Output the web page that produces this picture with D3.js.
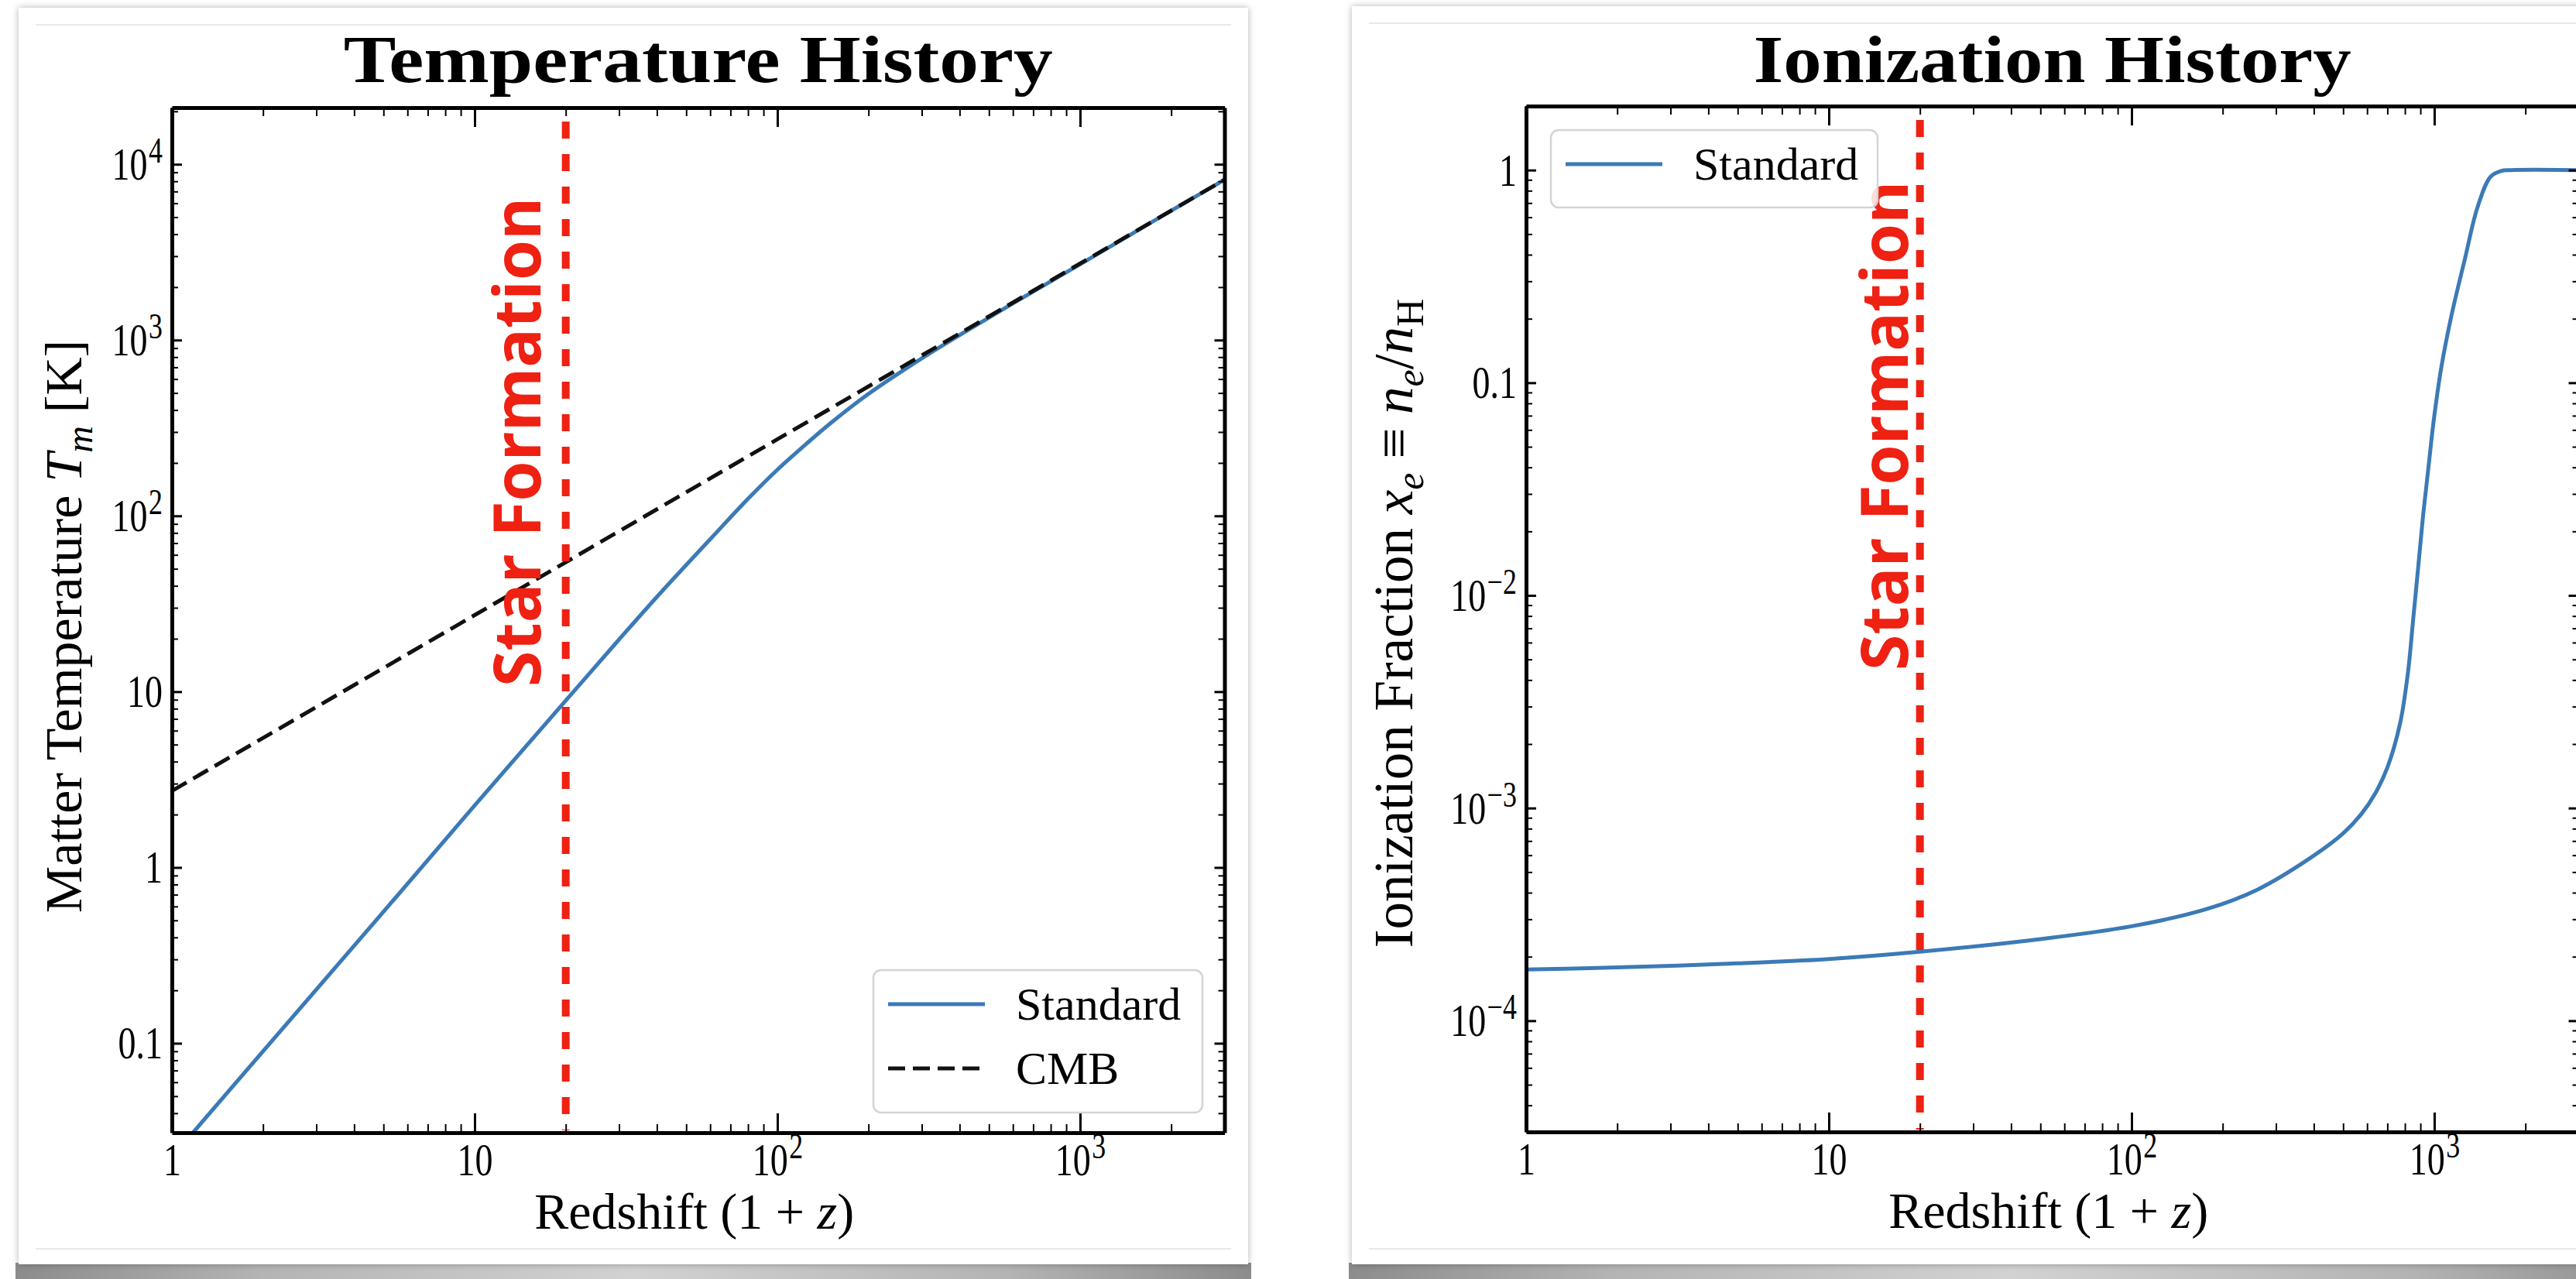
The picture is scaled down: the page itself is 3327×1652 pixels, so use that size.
<!DOCTYPE html>
<html>
<head>
<meta charset="utf-8">
<script src="https://cdn.jsdelivr.net/npm/d3@7"></script>
<style>
  html, body { margin: 0; padding: 0; background: #fff; }
  svg { display: block; }
</style>
</head>
<body>
<script>
// ---- data ----
const redshiftRange = [1, 3000];

// temperature history (matter, "Standard")
const tempZ = [1, 2, 5, 10, 20, 30, 40, 60, 80, 100, 125, 150, 200, 300, 400, 600, 1000, 2000, 3000];
const tempStandard = [0.0225, 0.09, 0.56, 2.25, 8.9, 19.8, 34.6, 73.6, 125, 183, 258, 337, 494, 787, 1068, 1615, 2700, 5440, 8175];

// CMB temperature
const cmbZ = [1, 10, 100, 1000, 3000];
const tempCMB = [2.725, 27.25, 272.5, 2725, 8175];

// ionization history ("Standard")
const ionZ = [1, 2, 5, 10, 20, 50, 100, 177, 261, 388, 500, 575, 640, 700, 771, 818, 851, 885, 920, 958, 996, 1056, 1143, 1260, 1390, 1534, 1660, 1800, 3000];
const ionStandard = [1.74e-4, 1.78e-4, 1.86e-4, 1.95e-4, 2.11e-4, 2.42e-4, 2.78e-4, 3.35e-4, 4.14e-4, 5.8e-4, 7.6e-4, 9.4e-4, 1.18e-3, 1.55e-3, 2.5e-3, 4.3e-3, 7.6e-3, 1.36e-2, 2.43e-2, 4.07e-2, 6.66e-2, 0.119, 0.211, 0.378, 0.67, 0.93, 0.99, 1.0, 1.0];

const starFormationZ = 20;

const tempDomain = [0.031, 21000];
const ionDomain = [3e-5, 2];

// ---- page ----
const W = 3327, H = 1652;
const blue = "#3b7ab6", red = "#ee2112";
const serif = "'Liberation Serif', 'Times New Roman', serif";

let svg = d3.select("body").append("svg")
    .attr("width", W)
    .attr("height", H);

svg.append("rect").attr("width", W).attr("height", H).attr("fill", "#fff");

let defs = svg.append("defs");
let shadow = defs.append("filter").attr("id", "cardShadow")
    .attr("x", "-5%").attr("y", "-5%").attr("width", "110%").attr("height", "110%");
shadow.append("feDropShadow")
    .attr("dx", 0).attr("dy", 0)
    .attr("stdDeviation", 4)
    .attr("flood-color", "#000")
    .attr("flood-opacity", 0.3);

let band = defs.append("linearGradient").attr("id", "band");
[[0, "#8c8c8c"], [0.2, "#b4b4b4"], [0.5, "#d2d2d2"], [0.8, "#b4b4b4"], [1, "#8c8c8c"]]
    .forEach(s => band.append("stop").attr("offset", s[0]).attr("stop-color", s[1]));

// cards
let cards = [
    {x: 24, y: 10, w: 1588, h: 1623},
    {x: 1746, y: 8, w: 1700, h: 1625}
];
cards.forEach(c => {
    svg.append("rect")
        .attr("x", c.x - 4).attr("y", c.y + c.h - 2)
        .attr("width", c.w + 8).attr("height", H - (c.y + c.h) + 2)
        .attr("fill", "url(#band)");
    svg.append("rect")
        .attr("x", c.x).attr("y", c.y)
        .attr("width", c.w).attr("height", c.h)
        .attr("fill", "#fff")
        .attr("filter", "url(#cardShadow)");
    [c.y + 22, c.y + c.h - 20].forEach(ly => {
        svg.append("line")
            .attr("x1", c.x + 22).attr("x2", c.x + c.w - 22)
            .attr("y1", ly).attr("y2", ly)
            .attr("stroke", "#e8e8e8").attr("stroke-width", 2);
    });
});

// ---- helpers ----
let isMajor = v => Math.abs(Math.log10(v) - Math.round(Math.log10(v))) < 1e-9;
let squeeze = 0.78;

let tickLabel = (sel, v) => {
    let e = Math.round(Math.log10(v));
    sel.text(null);
    if (e >= 2 || e <= -2) {
        sel.append("tspan").text("10");
        sel.append("tspan").attr("dx", 2).attr("dy", -22).attr("font-size", 46)
            .text((e < 0 ? "\u2212" : "") + Math.abs(e));
    } else {
        sel.text(e === -1 ? "0.1" : String(Math.round(v)));
    }
};

let richText = (sel, parts, fs) => {
    parts.forEach(p => {
        let t = sel.append("tspan").text(p.t);
        if (p.it) t.attr("font-style", "italic");
        if (p.sub) t.attr("font-size", Math.round(fs * 0.7)).attr("dy", 14);
        if (p.unsub) t.attr("dy", -14);
    });
};

let drawPanel = (p) => {
    let x = d3.scaleLog().domain(redshiftRange).range([p.left, p.left + 1359.5]);
    let y = d3.scaleLog().domain(p.yDomain).range([p.bottom, p.top]);
    let right = x.range()[1];

    let g = svg.append("g");

    // clip
    let clipId = "clip" + p.id;
    defs.append("clipPath").attr("id", clipId)
        .append("rect")
        .attr("x", p.left).attr("y", p.top)
        .attr("width", right - p.left).attr("height", p.bottom - p.top);

    let plot = g.append("g").attr("clip-path", `url(#${clipId})`);

    let line = d3.line()
        .x(d => x(d[0]))
        .y(d => y(d[1]))
        .curve(d3.curveCatmullRom.alpha(0.5));

    p.series.forEach(s => {
        plot.append("path")
            .datum(d3.zip(s.xs, s.ys))
            .attr("d", line)
            .attr("fill", "none")
            .attr("stroke", s.color)
            .attr("stroke-width", 5)
            .attr("stroke-dasharray", s.dash || null);
    });

    // star formation marker
    plot.append("line")
        .attr("x1", x(starFormationZ)).attr("x2", x(starFormationZ))
        .attr("y1", p.top + 18).attr("y2", p.bottom - 3)
        .attr("stroke", red)
        .attr("stroke-width", 10)
        .attr("stroke-dasharray", "22,20");

    g.append("text")
        .attr("transform", `translate(${x(starFormationZ) + p.starDx},${p.starY}) rotate(-90)`)
        .attr("font-family", "'Open Sans', 'Noto Sans', sans-serif")
        .attr("font-weight", 700)
        .attr("font-size", 84)
        .attr("fill", red)
        .text("Star Formation");

    // axes
    let xt = x.ticks(), yt = y.ticks();
    let xMaj = xt.filter(isMajor), xMin = xt.filter(v => !isMajor(v));
    let yMaj = yt.filter(isMajor), yMin = yt.filter(v => !isMajor(v));

    let axes = g.append("g");
    let styleAxis = (a, w) => {
        a.selectAll(".tick line").attr("stroke", "#000").attr("stroke-width", w);
        a.select(".domain").attr("stroke", "#000").attr("stroke-width", 5);
    };

    let bottom = axes.append("g").attr("transform", `translate(0,${p.bottom})`);
    bottom.append("g").call(d3.axisBottom(x).tickValues(xMin).tickSize(-11).tickSizeOuter(0).tickFormat(""))
        .call(a => { styleAxis(a, 2); a.select(".domain").remove(); a.selectAll("text").remove(); });
    let bottomMajor = bottom.append("g")
        .call(d3.axisBottom(x).tickValues(xMaj).tickSize(-25).tickSizeOuter(0).tickPadding(13))
        .call(a => styleAxis(a, 3));

    let top = axes.append("g").attr("transform", `translate(0,${p.top})`);
    top.append("g").call(d3.axisTop(x).tickValues(xMin).tickSize(-11).tickSizeOuter(0).tickFormat(""))
        .call(a => { styleAxis(a, 2); a.select(".domain").remove(); });
    top.append("g").call(d3.axisTop(x).tickValues(xMaj).tickSize(-25).tickSizeOuter(0).tickFormat(""))
        .call(a => styleAxis(a, 3));

    let left = axes.append("g").attr("transform", `translate(${p.left},0)`);
    left.append("g").call(d3.axisLeft(y).tickValues(yMin).tickSize(-8).tickSizeOuter(0).tickFormat(""))
        .call(a => { styleAxis(a, 2); a.select(".domain").remove(); a.selectAll("text").remove(); });
    let leftMajor = left.append("g")
        .call(d3.axisLeft(y).tickValues(yMaj).tickSize(-13).tickSizeOuter(0))
        .call(a => styleAxis(a, 3));

    let rightAx = axes.append("g").attr("transform", `translate(${right},0)`);
    rightAx.append("g").call(d3.axisRight(y).tickValues(yMin).tickSize(-8).tickSizeOuter(0).tickFormat(""))
        .call(a => { styleAxis(a, 2); a.select(".domain").remove(); });
    rightAx.append("g").call(d3.axisRight(y).tickValues(yMaj).tickSize(-13).tickSizeOuter(0).tickFormat(""))
        .call(a => styleAxis(a, 3));

    // tick labels: serif, slightly narrow as in the original
    bottomMajor.selectAll(".tick text")
        .attr("font-family", serif).attr("font-size", 59).attr("fill", "#000")
        .attr("transform", `scale(${squeeze},1)`)
        .each(function(d) { tickLabel(d3.select(this), d); });
    leftMajor.selectAll(".tick text")
        .attr("font-family", serif).attr("font-size", 59).attr("fill", "#000")
        .attr("x", -12 / squeeze).attr("dy", "0.33em")
        .attr("transform", `scale(${squeeze},1)`)
        .each(function(d) { tickLabel(d3.select(this), d); });
    axes.selectAll("g[font-family]").attr("font-family", null);

    // titles
    let cx = (p.left + right) / 2;
    g.append("text")
        .attr("transform", `translate(${cx},${p.titleY}) scale(${p.titleStretch},1)`)
        .attr("text-anchor", "middle")
        .attr("font-family", serif)
        .attr("font-weight", 700)
        .attr("font-size", 86)
        .text(p.title);

    g.append("text")
        .attr("x", cx - 5).attr("y", p.bottom + 124)
        .attr("text-anchor", "middle")
        .attr("font-family", serif)
        .attr("font-size", 66)
        .call(t => richText(t, [{t: "Redshift ("}, {t: "1 + "}, {t: "z", it: true}, {t: ")"}], 66));

    g.append("text")
        .attr("transform", `translate(${p.left - p.yLabelDx},${p.yLabelY}) rotate(-90)`)
        .attr("text-anchor", "middle")
        .attr("font-family", serif)
        .attr("font-size", p.yLabelSize)
        .call(t => richText(t, p.yLabel, p.yLabelSize));

    // legend
    let lg = g.append("g").attr("transform", `translate(${p.legend.x},${p.legend.y})`);
    lg.append("rect")
        .attr("width", p.legend.w).attr("height", p.legend.h)
        .attr("rx", 10)
        .attr("fill", "#fff").attr("fill-opacity", 0.85)
        .attr("stroke", "#d4d4d4").attr("stroke-width", 2.5);
    p.series.forEach((s, i) => {
        let ry = 44 + i * 83;
        lg.append("line")
            .attr("x1", 19).attr("x2", 144)
            .attr("y1", ry).attr("y2", ry)
            .attr("stroke", s.color).attr("stroke-width", 5)
            .attr("stroke-dasharray", s.dash || null);
        lg.append("text")
            .attr("x", 184).attr("y", ry + 20)
            .attr("font-family", serif).attr("font-size", 60)
            .text(s.name);
    });
};

drawPanel({
    id: "T",
    left: 222, top: 139, bottom: 1463,
    yDomain: tempDomain,
    title: "Temperature History",
    titleY: 106, titleStretch: 1.18,
    yLabelDx: 117, yLabelY: 809, yLabelSize: 68,
    yLabel: [{t: "Matter Temperature "}, {t: "T", it: true}, {t: "m", it: true, sub: true}, {t: " [K]", unsub: true}],
    starDx: -33, starY: 887,
    series: [
        {name: "Standard", xs: tempZ, ys: tempStandard, color: blue},
        {name: "CMB", xs: cmbZ, ys: tempCMB, color: "#111", dash: "22,10"}
    ],
    legend: {x: 1128, y: 1253, w: 425, h: 184}
});

drawPanel({
    id: "X",
    left: 1971, top: 137, bottom: 1462,
    yDomain: ionDomain,
    title: "Ionization History",
    titleY: 106, titleStretch: 1.15,
    yLabelDx: 147, yLabelY: 805, yLabelSize: 71,
    yLabel: [{t: "Ionization Fraction "}, {t: "x", it: true}, {t: "e", it: true, sub: true},
             {t: " \u2261 ", unsub: true}, {t: "n", it: true}, {t: "e", it: true, sub: true},
             {t: "/", unsub: true}, {t: "n", it: true}, {t: "H", sub: true}],
    starDx: -16, starY: 866,
    series: [
        {name: "Standard", xs: ionZ, ys: ionStandard, color: blue}
    ],
    legend: {x: 2003, y: 168, w: 422, h: 100}
});
</script>
</body>
</html>
